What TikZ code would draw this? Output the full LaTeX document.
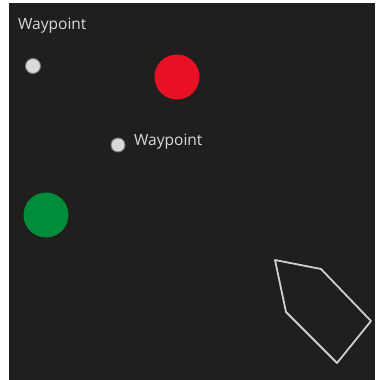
\documentclass[tikz,border=0pt]{standalone}
\usepackage{fontspec}
\setmainfont{Open Sans}
\usepackage{xcolor}
\usetikzlibrary{positioning}
\definecolor{bgdark}{HTML}{201F1E}
\definecolor{wpfill}{HTML}{D9D9D9}
\definecolor{wpring}{HTML}{7A7A7A}
\definecolor{marksred}{HTML}{E81123}
\definecolor{marksgreen}{HTML}{008C3A}
\definecolor{hullgray}{HTML}{CFCFCF}

\begin{document}
\begin{tikzpicture}[
  x=1pt, y=-1pt,
  waypoint/.style={circle, draw=wpring, fill=wpfill, line width=0.9pt, minimum size=15pt, inner sep=0pt},
  buoy/.style={circle, minimum size=45pt, inner sep=0pt},
  wplabel/.style={text=wpfill, font=\fontsize{15.5}{17}\selectfont, inner sep=0pt},
  hull/.style={draw=hullgray, line width=1.8pt, line join=round}
]

% Canvas
\useasboundingbox (0,0) rectangle (375,380);
\fill[white] (0,0) rectangle (375,380);
\fill[bgdark] (9,3) rectangle (375,380);

% Labels
\node[wplabel, anchor=west] (lbl1) at (18,26) {Waypoint};

% Waypoints
\node[waypoint] (wp1) at (33,66) {};
\node[waypoint, minimum size=14pt] (wp2) at (118,145) {};
\node[wplabel, anchor=west] (lbl2) at (134,142) {Waypoint};

% Buoys
\node[buoy, fill=marksred] (red) at (177,77) {};
\node[buoy, fill=marksgreen] (green) at (46,215) {};

% Boat outline
\coordinate (h1) at (275,260);
\coordinate (h2) at (321,269);
\coordinate (h3) at (371,321);
\coordinate (h4) at (337,363);
\coordinate (h5) at (286,312);
\draw[hull] (h1) -- (h2) -- (h3) -- (h4) -- (h5) -- cycle;

\end{tikzpicture}
\end{document}
